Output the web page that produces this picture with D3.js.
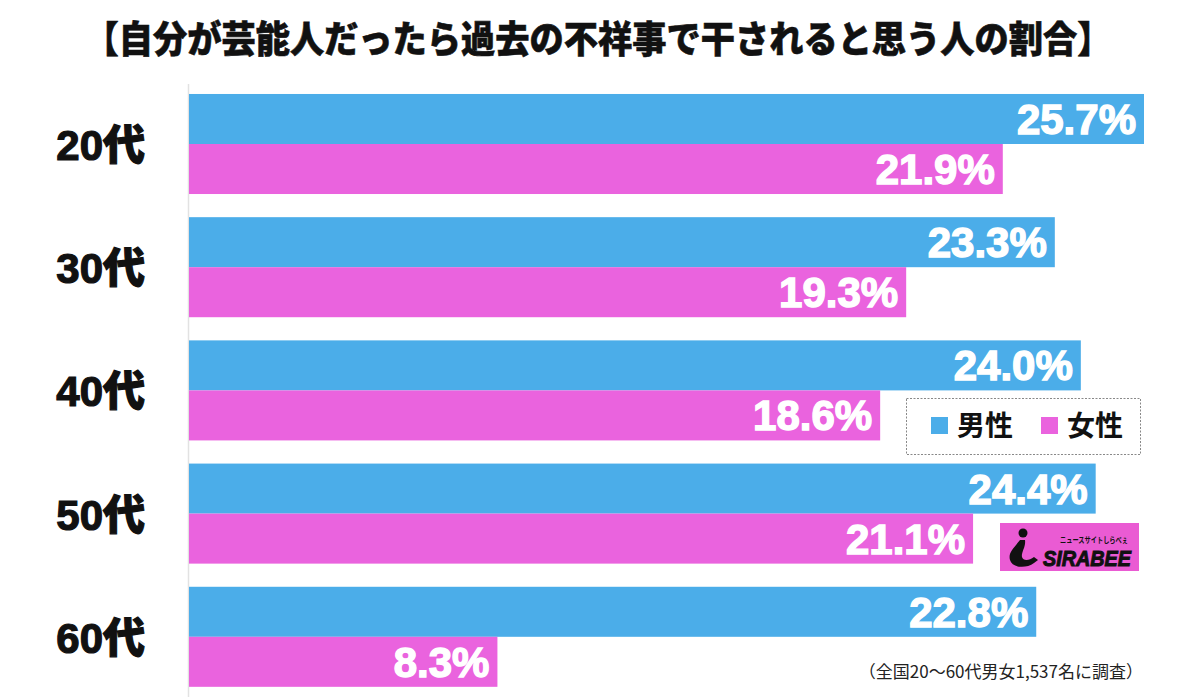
<!DOCTYPE html>
<html>
<head>
<meta charset="utf-8">
<script src="https://cdn.jsdelivr.net/npm/d3@7/dist/d3.min.js"></script>
<style>
  html, body { margin: 0; padding: 0; background: #fff; }
  svg { display: block; }
</style>
</head>
<body>
<svg id="chart" width="1200" height="697"></svg>
<script>
// ---- data ----
const title = "【自分が芸能人だったら過去の不祥事で干されると思う人の割合】";
const categories = ["20代", "30代", "40代", "50代", "60代"];
const seriesNames = ["男性", "女性"];
const maleValues = [25.7, 23.3, 24.0, 24.4, 22.8];
const femaleValues = [21.9, 19.3, 18.6, 21.1, 8.3];
const footnote = "（全国20〜60代男女1,537名に調査）";

const colors = { "男性": "#4BADE9", "女性": "#EA63DE" };

const svg = d3.select("#chart");

const x = d3.scaleLinear().domain([0, 25.7]).range([189, 1144]);
const y = d3.scaleBand().domain(categories).range([82.4, 698.4])
  .paddingInner(0.188).paddingOuter(0.094);
const ySub = d3.scaleBand().domain(seriesNames).range([0, y.bandwidth()]);

const rows = categories.map((c, i) => ({ cat: c, values: [
  { key: "男性", v: maleValues[i] }, { key: "女性", v: femaleValues[i] } ] }));

// title
svg.append("text")
  .attr("x", 598).attr("y", 53)
  .attr("text-anchor", "middle")
  .attr("font-family", "'Noto Sans CJK JP', sans-serif")
  .attr("font-weight", 900)
  .attr("font-size", 37)
  .attr("textLength", 1027)
  .attr("lengthAdjust", "spacingAndGlyphs")
  .attr("fill", "#111")
  .attr("stroke", "#111").attr("stroke-width", 0.6)
  .text(title);

// axis line
svg.append("line")
  .attr("x1", x(0) - 0.5).attr("x2", x(0) - 0.5)
  .attr("y1", 84).attr("y2", 697)
  .attr("stroke", "#e2e2e2").attr("stroke-width", 1.5);

const g = svg.selectAll("g.row").data(rows).join("g")
  .attr("class", "row")
  .attr("transform", d => `translate(0,${y(d.cat)})`);

g.selectAll("rect").data(d => d.values).join("rect")
  .attr("x", x(0))
  .attr("y", d => ySub(d.key))
  .attr("width", d => x(d.v) - x(0))
  .attr("height", ySub.bandwidth())
  .attr("fill", d => colors[d.key]);

g.selectAll("text.val").data(d => d.values).join("text")
  .attr("class", "val")
  .attr("x", d => x(d.v) - 8)
  .attr("y", d => ySub(d.key) + ySub.bandwidth() / 2 + 15)
  .attr("text-anchor", "end")
  .attr("font-family", "'Liberation Sans', Arial, sans-serif")
  .attr("font-weight", "bold")
  .attr("font-size", 42)
  .attr("fill", "#fff")
  .attr("stroke", "#fff").attr("stroke-width", 1.4)
  .text(d => d.v.toFixed(1) + "%");

// category labels
g.append("text")
  .attr("x", 145)
  .attr("y", y.bandwidth() / 2 + 16)
  .attr("text-anchor", "end")
  .attr("font-family", "'Liberation Sans', 'Noto Sans CJK JP', sans-serif")
  .attr("font-weight", 900)
  .attr("font-size", 42)
  .attr("fill", "#111")
  .attr("stroke", "#111").attr("stroke-width", 1.2)
  .text(d => d.cat);

// legend
const lg = svg.append("g");
lg.append("rect")
  .attr("x", 906.5).attr("y", 398.5).attr("width", 234).attr("height", 56)
  .attr("fill", "#fff").attr("stroke", "#888").attr("stroke-width", 1)
  .attr("stroke-dasharray", "2,1.5");
const legendItems = [{ key: "男性", sx: 931, tx: 957 }, { key: "女性", sx: 1041, tx: 1067 }];
legendItems.forEach(it => {
  lg.append("rect").attr("x", it.sx).attr("y", 417).attr("width", 17).attr("height", 17)
    .attr("fill", colors[it.key]);
  lg.append("text").attr("x", it.tx).attr("y", 436)
    .attr("font-family", "'Noto Sans CJK JP', sans-serif")
    .attr("font-weight", 700).attr("font-size", 28).attr("fill", "#111")
    .text(it.key);
});

// logo
const logo = svg.append("g");
logo.append("rect").attr("x", 1000).attr("y", 523).attr("width", 139).attr("height", 48)
  .attr("fill", "#EA5BD3");
logo.append("circle").attr("cx", 1023).attr("cy", 533).attr("r", 4.5).attr("fill", "#111");
logo.append("path")
  .attr("d", "M1020,540 C1013,549 1008,553 1010,560 C1012,568 1026,569 1034,563 L1038,560 L1034,557 C1029,561 1023,561 1022,557 C1021,552 1026,547 1025,540 Z")
  .attr("fill", "#111");
logo.append("text").attr("x", 1060).attr("y", 543)
  .attr("font-family", "'Noto Sans CJK JP', sans-serif")
  .attr("font-weight", 700).attr("font-size", 8).attr("fill", "#111")
  .attr("textLength", 68).attr("lengthAdjust", "spacingAndGlyphs")
  .text("ニュースサイトしらべぇ");
logo.append("text").attr("x", 1043).attr("y", 566)
  .attr("font-family", "'Liberation Sans', Arial, sans-serif")
  .attr("font-weight", "bold").attr("font-style", "italic")
  .attr("font-size", 22).attr("fill", "#111")
  .attr("textLength", 88).attr("lengthAdjust", "spacingAndGlyphs")
  .attr("stroke", "#111").attr("stroke-width", 1)
  .text("SIRABEE");

// footnote
svg.append("text")
  .attr("x", 1143).attr("y", 678)
  .attr("text-anchor", "end")
  .attr("font-family", "'Noto Sans CJK JP', sans-serif")
  .attr("font-size", 17).attr("fill", "#222")
  .text(footnote);
</script>
</body>
</html>
